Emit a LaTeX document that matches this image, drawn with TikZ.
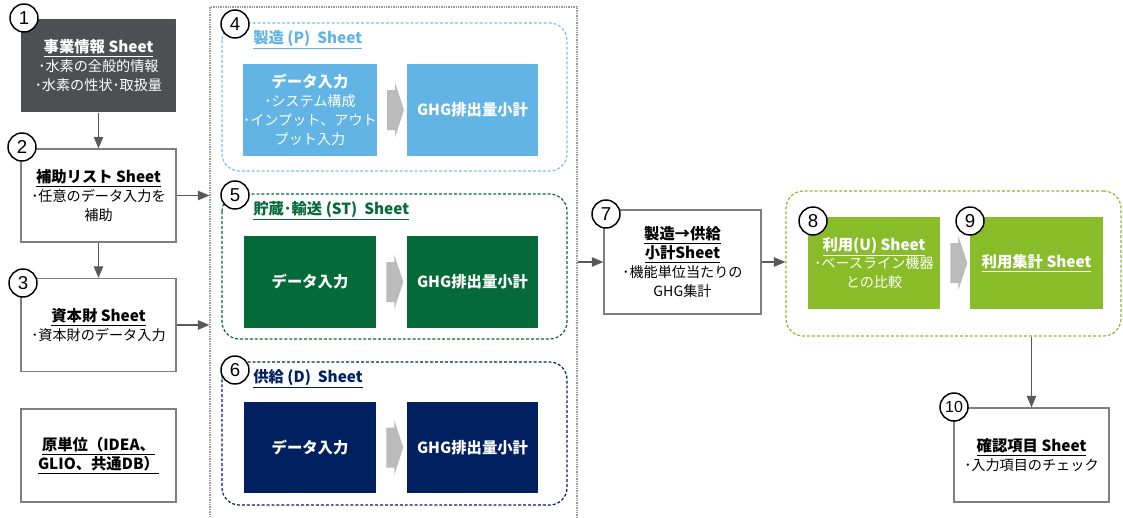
\documentclass[tikz,border=0pt]{standalone}
\usepackage{fontspec}
\setmainfont{Noto Sans CJK JP}
\newfontfamily\numfont{Liberation Sans}
\usepackage{tikz}
\usetikzlibrary{calc}
\usetikzlibrary{positioning}
\usetikzlibrary{shapes}
\usetikzlibrary{arrows}

\definecolor{darkgray1}{HTML}{4D4F53}
\definecolor{boxgray}{HTML}{7F7F7F}
\definecolor{conngray}{HTML}{595959}
\definecolor{skyblue}{HTML}{62B4E4}
\definecolor{skyline}{HTML}{7DC0EA}
\definecolor{deepgreen}{HTML}{046A38}
\definecolor{navyblue}{HTML}{002060}
\definecolor{leafgreen}{HTML}{88BC28}
\definecolor{arrowgray}{HTML}{BBBBBB}

\newcommand{\pxu}{0.75pt}
\newcommand{\bodyfont}{\fontsize{10.6}{14.2}\selectfont}
\newcommand{\headfont}{\fontsize{11.5}{14.2}\selectfont\bfseries}
\newcommand{\grayarrow}[1]{\fill[arrowgray] (#1) ++(-8.5,-20) -- ++(8,0) -- ++(0,-7.5) -- ++(9,27.5) -- ++(-9,27.5) -- ++(0,-7.5) -- ++(-8,0) -- cycle;}

\tikzset{
  sheetbox/.style={draw=boxgray, line width=1pt, fill=white, align=center, inner sep=0pt,
    minimum width=155*\pxu, minimum height=93*\pxu, font=\bodyfont},
  darkbox/.style={sheetbox, draw=none, fill=darkgray1, text=white},
  inbox/.style={draw=none, align=center, inner sep=0pt, text=white,
    minimum width=132*\pxu, minimum height=92*\pxu, font=\bodyfont},
  numc/.style={circle, draw=black, line width=1.1pt, fill=white, inner sep=0pt,
    minimum size=28*\pxu, font=\numfont\fontsize{14}{14}\selectfont},
  grp/.style={rounded corners=13pt, dash pattern=on 2.2pt off 1.5pt, line width=0.9pt},
  grptitle/.style={anchor=west, inner sep=0pt, font=\headfont},
  conn/.style={draw=conngray, line width=1pt, -triangle 45}
}

\begin{document}
\begin{tikzpicture}[x=0.75pt, y=-0.75pt]
	\fill[white] (0,0) rectangle (1123,517);
	\useasboundingbox (0,0) rectangle (1123,517);

	% left column
	\node[darkbox] (info) at (98.5,65.5) {{\headfont\underline{事業情報 Sheet}}\\･水素の全般的情報\\･水素の性状･取扱量};
	\node[sheetbox] (aux) at (98.5,195.5) {{\headfont\underline{補助リスト Sheet}}\\･任意のデータ入力を\\補助};
	\node[sheetbox] (capital) at (98.5,325) {{\headfont\underline{資本財 Sheet}}\\･資本財のデータ入力};
	\node[sheetbox] (basis) at (98.5,455.5) {{\headfont\underline{原単位（IDEA、}}\\{\headfont\underline{GLIO、共通DB）}}};

	% middle stage
	\node[draw=gray!80, dash pattern=on 1pt off 0.8pt, line width=0.9pt, minimum width=367*\pxu, minimum height=533*\pxu] (stage) at (393.5,273.5) {};

	\draw[grp, draw=skyline] (222,23) rectangle (567,171);
	\node[grptitle, text=skyblue] (titleP) at (253,40) {\underline{製造 (P)\ \ Sheet}};
	\node[inbox, fill=skyblue] (inP) at (310,110) {{\headfont データ入力}\\･システム構成\\･インプット、アウト\\プット入力};
	\node[inbox, fill=skyblue, minimum width=131*\pxu] (sumP) at (472.5,110) {\headfont GHG排出量小計};
	\grayarrow{$(inP.east)+(18.5,0)$}

	\draw[grp, draw=deepgreen] (222,194) rectangle (567,339);
	\node[grptitle, text=deepgreen] (titleST) at (253,211) {\underline{貯蔵･輸送 (ST)\ \ Sheet}};
	\node[inbox, fill=deepgreen] (inST) at (310,282) {\headfont データ入力};
	\node[inbox, fill=deepgreen, minimum width=131*\pxu] (sumST) at (472.5,282) {\headfont GHG排出量小計};
	\grayarrow{$(inST.east)+(18.5,0)$}

	\draw[grp, draw=navyblue] (222,362) rectangle (567,505);
	\node[grptitle, text=navyblue] (titleD) at (253,379) {\underline{供給 (D)\ \ Sheet}};
	\node[inbox, fill=navyblue, minimum height=91*\pxu] (inD) at (310,447.5) {\headfont データ入力};
	\node[inbox, fill=navyblue, minimum width=131*\pxu, minimum height=91*\pxu] (sumD) at (472.5,447.5) {\headfont GHG排出量小計};
	\grayarrow{$(inD.east)+(18.5,0)$}

	% right part
	\node[sheetbox, minimum width=157*\pxu, minimum height=104*\pxu] (total) at (682.5,262) {{\headfont\underline{製造→供給}}\\{\headfont\underline{小計Sheet}}\\･機能単位当たりの\\GHG集計};

	\node[grp, draw=leafgreen, minimum width=335*\pxu, minimum height=145*\pxu] (grpU) at (953.5,263.5) {};
	\node[inbox, fill=leafgreen] (useU) at (874,263) {{\headfont\underline{利用(U) Sheet}}\\･ベースライン機器\\との比較};
	\node[inbox, fill=leafgreen, minimum width=133*\pxu] (useSum) at (1036.5,263) {\headfont\underline{利用集計 Sheet}};
	\grayarrow{$(useU.east)+(18.5,0)$}

	\node[sheetbox, minimum height=94*\pxu] (check) at (1031.5,455) {{\headfont\underline{確認項目 Sheet}}\\･入力項目のチェック};

	% connectors
	\path[conn] (info) -- (aux);
	\path[conn] (aux) -- (capital);
	\path[conn] (aux.east) -- (aux.east -| stage.west);
	\path[conn] (capital.east) -- (capital.east -| stage.west);
	\path[conn] (total.west -| stage.east) -- (total.west);
	\path[conn] (total.east) -- (total.east -| grpU.west);
	\path[conn] (check.north |- grpU.south) -- (check.north);

	% numbers
	\node[numc] (n1) at (24,18) {1};
	\node[numc] (n2) at (22,147) {2};
	\node[numc] (n3) at (23,283) {3};
	\node[numc] (n4) at (235,24) {4};
	\node[numc] (n5) at (235,195) {5};
	\node[numc] (n6) at (235,370) {6};
	\node[numc] (n7) at (606,214) {7};
	\node[numc] (n8) at (813,221) {8};
	\node[numc] (n9) at (970,221) {9};
	\node[numc, font=\numfont\fontsize{12}{12}\selectfont] (n10) at (954,407) {10};
\end{tikzpicture}
\end{document}
